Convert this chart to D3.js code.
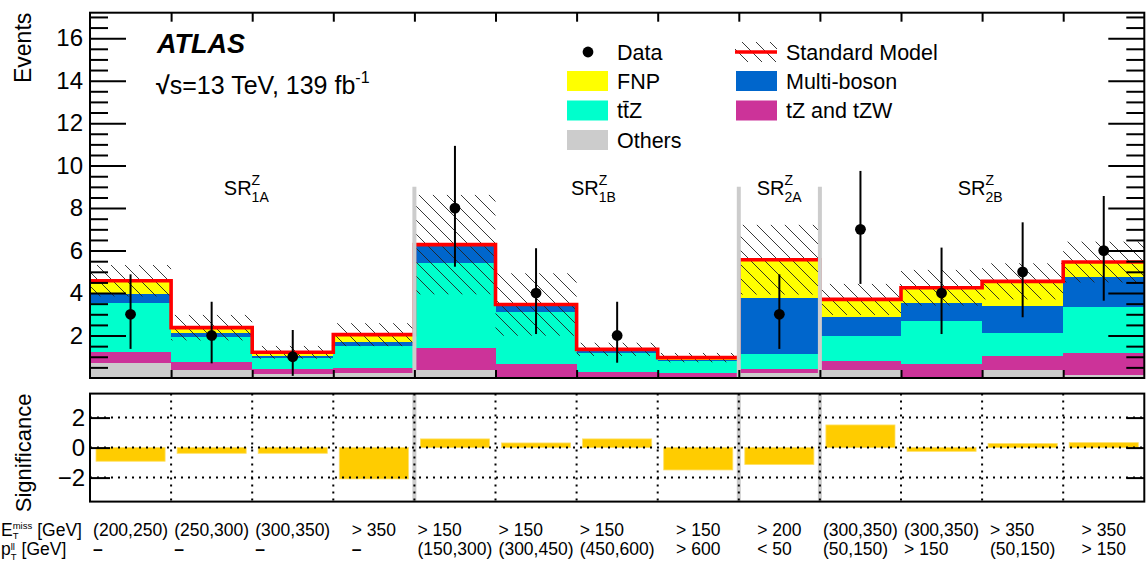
<!DOCTYPE html>
<html>
<head>
<meta charset="utf-8">
<title>ATLAS SR yields</title>
<style>
  body { margin: 0; background: #fff; }
  svg { display: block; font-family: "Liberation Sans", Arial, Helvetica, sans-serif; }
</style>
</head>
<body>
<div id="chart"></div>
<script src="https://d3js.org/d3.v7.min.js"></script>
<script>
// ---- data ----
var nBins = 13;
var others     = [0.69, 0.38, 0.17, 0.25, 0.38, 0.05, 0.02, 0.01, 0.22, 0.38, 0.03, 0.38, 0.14];
var tZtZW      = [0.55, 0.36, 0.24, 0.21, 1.02, 0.61, 0.28, 0.24, 0.19, 0.42, 0.62, 0.66, 1.02];
var ttZ        = [2.31, 1.18, 0.52, 1.05, 4.03, 2.46, 0.89, 0.55, 0.72, 1.18, 2.05, 1.09, 2.20];
var multiBoson = [0.41, 0.19, 0.11, 0.20, 0.77, 0.30, 0.08, 0.06, 2.62, 0.91, 0.82, 1.26, 1.41];
var fnp        = [0.62, 0.26, 0.17, 0.33, 0.08, 0.04, 0.08, 0.10, 1.82, 0.81, 0.73, 1.16, 0.69];
var smUnc      = [0.74, 0.60, 0.30, 0.54, 2.34, 1.47, 0.31, 0.22, 1.64, 0.73, 0.84, 0.85, 0.96];

var dataN  = [3, 2, 1, 0, 8, 4, 2, 0, 3, 7, 4, 5, 6];
var dataHi = [4.88, 3.59, 2.26, 0, 10.93, 6.11, 3.59, 0, 4.88, 9.75, 6.14, 7.33, 8.57];
var dataLo = [1.37, 0.69, 0.10, 0, 5.24, 2.07, 0.72, 0, 1.37, 4.43, 2.07, 2.86, 3.64];

var significance = [-0.91, -0.38, -0.38, -2.09, 0.58, 0.31, 0.58, -1.49, -1.13, 1.51, -0.25, 0.27, 0.33];

var metLabels = ["(200,250)", "(250,300)", "(300,350)", "> 350", "> 150", "> 150", "> 150", "> 150",
                 "> 200", "(300,350)", "(300,350)", "> 350", "> 350"];
var ptLabels  = ["\u2013", "\u2013", "\u2013", "\u2013", "(150,300)", "(300,450)", "(450,600)", "> 600",
                 "< 50", "(50,150)", "> 150", "(50,150)", "> 150"];

var yMajor = [2, 4, 6, 8, 10, 12, 14, 16];
var sigTicks = [-2, 0, 2];
var regionEdges = [4, 8, 9];
var regions = [
  {sub: "1A", at: 1.65},
  {sub: "1B", at: 5.93},
  {sub: "2A", at: 8.22},
  {sub: "2B", at: 10.70}
];

var colors = {
  others: "#cccccc", tZtZW: "#cc3399", ttZ: "#00ffcc", multiBoson: "#0066cc", fnp: "#ffff00"
};

// ---- layout ----
var W = 1146, H = 561;
var left = 90, right = 1144.3;
var topY0 = 12.7, topY1 = 378;
var botY0 = 393.6, botY1 = 501.6;

var svg = d3.select("#chart").append("svg").attr("width", W).attr("height", H);

var defs = svg.append("defs");
var pat = defs.append("pattern").attr("id", "hatch")
  .attr("patternUnits", "userSpaceOnUse").attr("width", 14).attr("height", 14);
pat.append("path").attr("d", "M0,0L14,14M-7,7L7,21M7,-7L21,7")
  .attr("stroke", "#222").attr("stroke-width", 0.9);

var x = d3.scaleLinear().domain([0, nBins]).range([left, right]);
var y = d3.scaleLinear().domain([0, 17.2]).range([topY1, topY0]);
var ys = d3.scaleLinear().domain([-3.6, 3.6]).range([botY1, botY0]);

var bins = d3.range(nBins);
var table = bins.map(function(i) {
  return {i: i, others: others[i], tZtZW: tZtZW[i], ttZ: ttZ[i], multiBoson: multiBoson[i], fnp: fnp[i]};
});
var keys = ["others", "tZtZW", "ttZ", "multiBoson", "fnp"];
var stacked = d3.stack().keys(keys)(table);
var total = bins.map(function(i) { return others[i] + tZtZW[i] + ttZ[i] + multiBoson[i] + fnp[i]; });

// ---- top panel ----
var topG = svg.append("g");

stacked.forEach(function(layer) {
  topG.append("g").selectAll("rect").data(layer).enter().append("rect")
    .attr("x", function(d, i) { return x(i); })
    .attr("width", function(d, i) { return x(i + 1) - x(i); })
    .attr("y", function(d) { return y(d[1]); })
    .attr("height", function(d) { return y(d[0]) - y(d[1]); })
    .attr("fill", colors[layer.key])
    .attr("shape-rendering", "crispEdges");
});

// uncertainty band
topG.append("g").selectAll("rect").data(bins).enter().append("rect")
  .attr("x", function(i) { return x(i); })
  .attr("width", function(i) { return x(i + 1) - x(i); })
  .attr("y", function(i) { return y(total[i] + smUnc[i]); })
  .attr("height", function(i) { return y(Math.max(0, total[i] - smUnc[i])) - y(total[i] + smUnc[i]); })
  .attr("fill", "url(#hatch)");

// SM step line
var stepPts = bins.map(function(i) { return [i, total[i]]; });
stepPts.push([nBins, total[nBins - 1]]);
topG.append("path")
  .attr("d", d3.line().x(function(d) { return x(d[0]); }).y(function(d) { return y(d[1]); })
    .curve(d3.curveStepAfter)(stepPts))
  .attr("fill", "none").attr("stroke", "#ff0000").attr("stroke-width", 3.6);

// region separators
topG.append("g").selectAll("line").data(regionEdges).enter().append("line")
  .attr("x1", function(e) { return x(e); }).attr("x2", function(e) { return x(e); })
  .attr("y1", y(0)).attr("y2", y(9.0))
  .attr("stroke", "#cccccc").attr("stroke-width", 4);

// data
var withData = bins.filter(function(i) { return dataN[i] > 0; });
topG.append("g").selectAll("line").data(withData).enter().append("line")
  .attr("x1", function(i) { return x(i + 0.5); }).attr("x2", function(i) { return x(i + 0.5); })
  .attr("y1", function(i) { return y(dataLo[i]); }).attr("y2", function(i) { return y(dataHi[i]); })
  .attr("stroke", "#000").attr("stroke-width", 2);
topG.append("g").selectAll("circle").data(withData).enter().append("circle")
  .attr("cx", function(i) { return x(i + 0.5); })
  .attr("cy", function(i) { return y(dataN[i]); })
  .attr("r", 5.4).attr("fill", "#000");

// axes top panel
function noLabel() { return ""; }
var yMinor = d3.range(0.5, 17.2, 0.5).filter(function(v) { return v % 2 !== 0; });
var axL = topG.append("g").attr("transform", "translate(" + left + ",0)")
  .call(d3.axisLeft(y).tickValues(yMajor).tickSizeInner(-36).tickSizeOuter(0).tickPadding(7));
axL.selectAll("text").attr("font-size", 24).attr("fill", "#000").attr("font-family", null);
topG.append("g").attr("transform", "translate(" + left + ",0)")
  .call(d3.axisLeft(y).tickValues(yMinor).tickSizeInner(-18).tickSizeOuter(0).tickFormat(noLabel));
topG.append("g").attr("transform", "translate(" + right + ",0)")
  .call(d3.axisRight(y).tickValues(yMajor).tickSizeInner(-36).tickSizeOuter(0).tickFormat(noLabel));
topG.append("g").attr("transform", "translate(" + right + ",0)")
  .call(d3.axisRight(y).tickValues(yMinor).tickSizeInner(-18).tickSizeOuter(0).tickFormat(noLabel));
topG.append("g").attr("transform", "translate(0," + topY0 + ")")
  .call(d3.axisTop(x).tickValues(d3.range(1, nBins)).tickSizeInner(-9).tickSizeOuter(0).tickFormat(noLabel));
topG.append("g").attr("transform", "translate(0," + topY1 + ")")
  .call(d3.axisBottom(x).tickValues(d3.range(1, nBins)).tickSizeInner(-8).tickSizeOuter(0).tickFormat(noLabel));
topG.selectAll(".domain").remove();
topG.selectAll(".tick line").attr("stroke", "#000").attr("stroke-width", 2);

topG.append("rect").attr("x", left).attr("y", topY0).attr("width", right - left).attr("height", topY1 - topY0)
  .attr("fill", "none").attr("stroke", "#000").attr("stroke-width", 2);

svg.append("text").attr("transform", "translate(31," + topY0 + ") rotate(-90)")
  .attr("text-anchor", "end").attr("font-size", 23).text("Events");

// ATLAS label
svg.append("text").attr("x", 157).attr("y", 53).attr("font-size", 27)
  .attr("font-weight", "bold").attr("font-style", "italic").text("ATLAS");
var lum = svg.append("text").attr("x", 156).attr("y", 94).attr("font-size", 25);
lum.append("tspan").attr("font-weight", "bold").text("\u221A");
lum.append("tspan").text("s=13 TeV, 139 fb");
lum.append("tspan").attr("font-size", 16).attr("dy", -11).text("-1");

// region labels
regions.forEach(function(r) {
  var x0 = x(r.at), yb = y(8.62);
  var t = svg.append("text").attr("x", x0).attr("y", yb).attr("font-size", 20).text("SR");
  var w = t.node().getComputedTextLength();
  svg.append("text").attr("x", x0 + w).attr("y", yb - 10).attr("font-size", 14).text("Z");
  svg.append("text").attr("x", x0 + w).attr("y", yb + 7).attr("font-size", 14).text(r.sub);
});

// legend
var leg = svg.append("g").attr("font-size", 21.5);
var rowY = [52, 81, 110.5, 140];
function legBox(bx, by, col, label) {
  leg.append("rect").attr("x", bx).attr("y", by - 10).attr("width", 41).attr("height", 20).attr("fill", col);
  leg.append("text").attr("x", bx + 50).attr("y", by).attr("dy", "0.36em").text(label);
}
leg.append("circle").attr("cx", 588).attr("cy", rowY[0]).attr("r", 5.4).attr("fill", "#000");
leg.append("text").attr("x", 617).attr("y", rowY[0]).attr("dy", "0.36em").text("Data");
legBox(567, rowY[1], colors.fnp, "FNP");
legBox(567, rowY[2], colors.ttZ, "tt\u0304Z");
legBox(567, rowY[3], colors.others, "Others");
leg.append("rect").attr("x", 735).attr("y", rowY[0] - 10).attr("width", 42).attr("height", 20).attr("fill", "url(#hatch)");
leg.append("line").attr("x1", 735).attr("x2", 777).attr("y1", rowY[0]).attr("y2", rowY[0])
  .attr("stroke", "#ff0000").attr("stroke-width", 3.6);
leg.append("text").attr("x", 786).attr("y", rowY[0]).attr("dy", "0.36em").text("Standard Model");
legBox(736, rowY[1], colors.multiBoson, "Multi-boson");
legBox(736, rowY[2], colors.tZtZW, "tZ and tZW");

// ---- bottom panel ----
var bot = svg.append("g");
bot.append("g").selectAll("line").data(regionEdges).enter().append("line")
  .attr("x1", function(e) { return x(e); }).attr("x2", function(e) { return x(e); })
  .attr("y1", botY0).attr("y2", botY1)
  .attr("stroke", "#cccccc").attr("stroke-width", 4);

bot.append("g").selectAll("rect").data(bins).enter().append("rect")
  .attr("x", function(i) { return x(i) + 6; })
  .attr("width", function(i) { return x(i + 1) - x(i) - 12; })
  .attr("y", function(i) { return ys(Math.max(0, significance[i])); })
  .attr("height", function(i) { return Math.abs(ys(significance[i]) - ys(0)); })
  .attr("fill", "#ffcc00").attr("stroke", "#ffe066").attr("stroke-width", 0.8);

bot.append("g").selectAll("line").data(sigTicks).enter().append("line")
  .attr("x1", left).attr("x2", right)
  .attr("y1", function(v) { return ys(v); }).attr("y2", function(v) { return ys(v); })
  .attr("stroke", "#000").attr("stroke-width", 2).attr("stroke-dasharray", "2,5");
bot.append("g").selectAll("line").data(d3.range(1, nBins)).enter().append("line")
  .attr("x1", function(e) { return x(e); }).attr("x2", function(e) { return x(e); })
  .attr("y1", botY0).attr("y2", botY1)
  .attr("stroke", "#000").attr("stroke-width", 2).attr("stroke-dasharray", "2,5");

var sAx = bot.append("g").attr("transform", "translate(" + left + ",0)")
  .call(d3.axisLeft(ys).tickValues(sigTicks).tickSizeInner(-20).tickSizeOuter(0).tickPadding(5)
    .tickFormat(function(v) { return v < 0 ? "\u2212" + Math.abs(v) : v; }));
sAx.selectAll("text").attr("font-size", 24).attr("fill", "#000").attr("font-family", null);
bot.append("g").attr("transform", "translate(" + right + ",0)")
  .call(d3.axisRight(ys).tickValues(sigTicks).tickSizeInner(-18).tickSizeOuter(0).tickFormat(noLabel));
bot.selectAll(".domain").remove();
bot.selectAll(".tick line").attr("stroke", "#000").attr("stroke-width", 2);

bot.append("rect").attr("x", left).attr("y", botY0).attr("width", right - left).attr("height", botY1 - botY0)
  .attr("fill", "none").attr("stroke", "#000").attr("stroke-width", 2);

svg.append("text").attr("transform", "translate(31," + botY0 + ") rotate(-90)")
  .attr("text-anchor", "end").attr("font-size", 22).text("Significance");

// ---- bin labels ----
var row1 = 536, row2 = 555, labFs = 17.5;
var lab = svg.append("g").attr("font-size", labFs);
bins.forEach(function(i) {
  var t1 = lab.append("text").attr("y", row1).text(metLabels[i]);
  var t2 = lab.append("text").attr("y", row2).text(ptLabels[i]);
  if (ptLabels[i] === "\u2013") t2.attr("font-weight", "bold");
  var w = Math.max(t1.node().getComputedTextLength(), t2.node().getComputedTextLength());
  var x0 = x(i + 0.5) - w / 2;
  t1.attr("x", x0); t2.attr("x", x0);
});

function rowHeader(base, sub, sup, yb, subOff, supOff) {
  var t = lab.append("text").attr("x", 1).attr("y", yb).text(base);
  var w = t.node().getComputedTextLength();
  var s1 = lab.append("text").attr("x", 1 + w).attr("y", yb + subOff).attr("font-size", 9.5).text(sub);
  var s2 = lab.append("text").attr("x", 1 + w).attr("y", yb - supOff).attr("font-size", 9.5).text(sup);
  var w2 = Math.max(s1.node().getComputedTextLength(), s2.node().getComputedTextLength());
  lab.append("text").attr("x", 1 + w + w2 + 5).attr("y", yb).text("[GeV]");
}
rowHeader("E", "T", "miss", row1, 3, 7);
rowHeader("p", "T", "ll", row2, 5, 5);
</script>
</body>
</html>
